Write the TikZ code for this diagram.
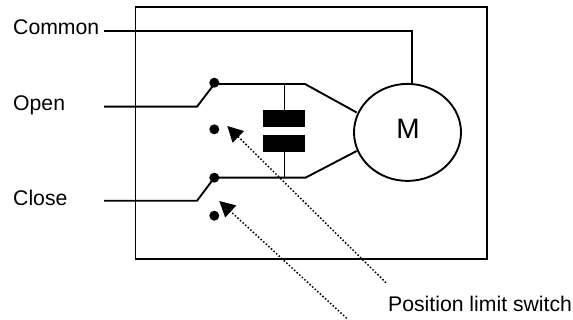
\documentclass[tikz,border=0pt]{standalone}
\usepackage{fontspec}
\setmainfont{Liberation Sans}
\usetikzlibrary{arrows.meta,shapes.geometric}
\tikzset{
 x=1pt,y=-1pt,
 wire/.style={line width=1.9pt,line join=miter},
 lbl/.style={inner sep=0pt,font=\fontsize{21.2}{25}\selectfont},
 contact/.style={circle,fill=black,inner sep=0pt,minimum size=10pt},
 plate/.style={fill=black,draw=none,inner sep=0pt,minimum width=42pt,minimum height=17pt},
 pointer/.style={line width=1.5pt,dash pattern=on 1.5pt off 2pt,-{Triangle[length=15.5pt,width=16pt,sep=0pt]}},
}
\begin{document}
\begin{tikzpicture}
\useasboundingbox (0,0) rectangle (573,320);
\node[draw,wire,minimum width=351.5pt,minimum height=252.5pt,inner sep=0pt,anchor=north west] (box) at (134.5,6) {};
\node[lbl,anchor=base west] (common) at (13,35) {Common};
\node[lbl,anchor=base west] (open) at (13,111) {Open};
\node[lbl,anchor=base west] (close) at (13,206) {Close};
\node[lbl,anchor=base west] (pls) at (388,311.5) {Position limit switch};
\node[draw,wire,ellipse,minimum width=107pt,minimum height=97pt,inner sep=0pt] (motor) at (407.5,132.4) {};
\node[inner sep=0pt,anchor=base,font=\fontsize{28}{32}\selectfont] (mlabel) at (408,139) {M};
\node[contact] (c1) at (214.3,82.7) {};
\node[contact] (c2) at (214.3,129.3) {};
\node[contact] (c3) at (214.3,177.7) {};
\node[contact] (c4) at (214.3,215.7) {};
\node[plate] (p1) at (284,119) {};
\node[plate] (p2) at (284,143.3) {};
\coordinate (cs) at (104,31);
\coordinate (cc) at (412,31);
\coordinate (os) at (104,106.7);
\coordinate (ok) at (197,106.7);
\coordinate (cls) at (104,200.8);
\coordinate (clk) at (197,200.8);
\coordinate (h1) at (214.3,84);
\coordinate (h2) at (214.3,177.7);
\coordinate (t1) at (305,84);
\coordinate (t2) at (305.5,177.7);
\coordinate (m1) at (356.7,112.5);
\coordinate (m2) at (356.7,151);
\coordinate (j1) at (284.5,84);
\coordinate (j2) at (284.5,177.7);
\coordinate (a1) at (386,282.7);
\coordinate (a2) at (346.7,318.3);
\coordinate (b1) at (227.3,126);
\coordinate (b2) at (219.3,201);
\draw[wire] (cs) -- (cc) -- (cc |- motor.north);
\draw[wire] (os) -- (ok) -- (h1) -- (t1) -- (m1);
\draw[wire] (cls) -- (clk) -- (h2) -- (t2) -- (m2);
\draw[wire] (j1) -- (p1.north -| j1);
\draw[wire] (j2) -- (p2.south -| j2);
\draw[pointer] (a1) -- (b1);
\draw[pointer] (a2) -- (b2);
\end{tikzpicture}
\end{document}
